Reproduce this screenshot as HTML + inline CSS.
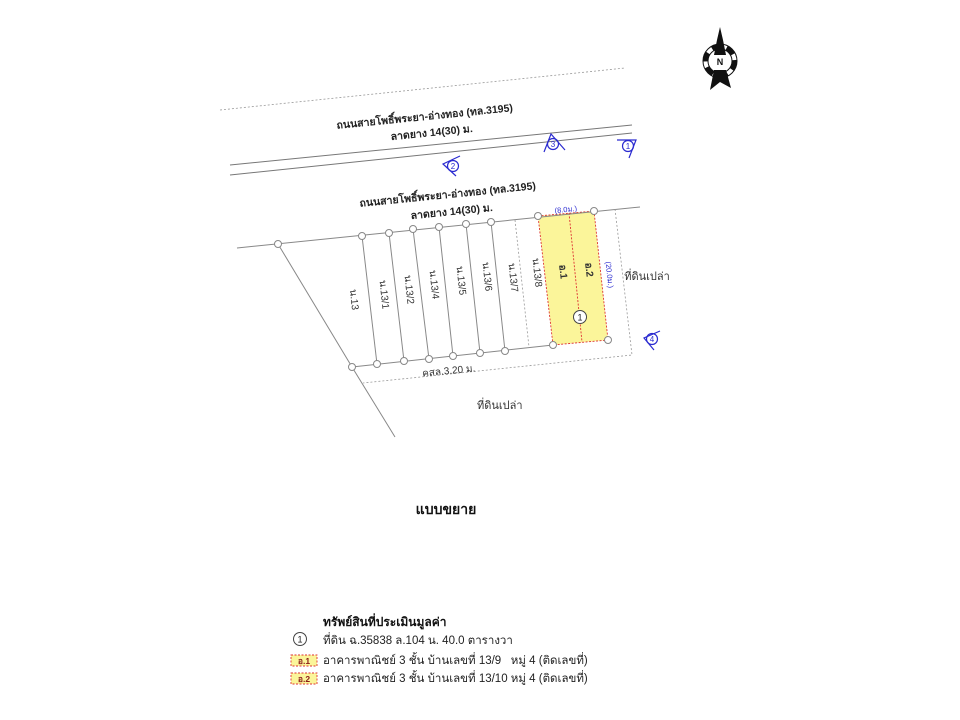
<!DOCTYPE html>
<html><head><meta charset="utf-8"><style>
html,body{margin:0;padding:0;background:#fff;}
svg{display:block;font-family:"Liberation Sans","Noto Sans CJK SC",sans-serif;}
</style></head><body>
<svg width="960" height="720" viewBox="0 0 960 720" xmlns="http://www.w3.org/2000/svg">
<rect width="960" height="720" fill="#fff"/>
<line x1="220" y1="110" x2="625" y2="68" stroke="#999" stroke-width="0.8" stroke-dasharray="2,2"/>
<line x1="230" y1="165" x2="632" y2="125" stroke="#777" stroke-width="1"/>
<line x1="230" y1="175" x2="632" y2="133" stroke="#777" stroke-width="1"/>
<g font-size="10.5" font-weight="bold" fill="#222" text-anchor="middle">
<text transform="translate(425,120) rotate(-5.7)">ถนนสายโพธิ์พระยา-อ่างทอง (ทล.3195)</text>
<text transform="translate(432,136) rotate(-5.7)">ลาดยาง 14(30) ม.</text>
<text transform="translate(448,198) rotate(-5.7)">ถนนสายโพธิ์พระยา-อ่างทอง (ทล.3195)</text>
<text transform="translate(452,215) rotate(-5.7)">ลาดยาง 14(30) ม.</text>
</g>
<polygon points="538,216 594,211 608,340 553,345" fill="#fbf59a" stroke="#d33" stroke-width="0.9" stroke-dasharray="2,1.5"/>
<line x1="569" y1="213" x2="582" y2="342" stroke="#d33" stroke-width="0.9" stroke-dasharray="2,1.5"/>
<g stroke="#888" stroke-width="1" fill="none">
<line x1="237" y1="248" x2="640" y2="207"/>
<line x1="352" y1="367" x2="553" y2="345"/>
<polyline points="278,244 352,367 395,437"/>
<line x1="362" y1="236" x2="377" y2="364"/>
<line x1="389" y1="233" x2="404" y2="361"/>
<line x1="413" y1="229" x2="429" y2="359"/>
<line x1="439" y1="227" x2="453" y2="356"/>
<line x1="466" y1="224" x2="480" y2="353"/>
<line x1="491" y1="222" x2="505" y2="351"/>
</g>
<g stroke="#999" stroke-width="0.8" fill="none" stroke-dasharray="2,2">
<line x1="515" y1="220" x2="529" y2="347"/>
<polyline points="615,209 632,355 363,383"/>
</g>
<g fill="#fff" stroke="#888" stroke-width="1">
<circle cx="278" cy="244" r="3.5"/><circle cx="362" cy="236" r="3.5"/><circle cx="389" cy="233" r="3.5"/>
<circle cx="413" cy="229" r="3.5"/><circle cx="439" cy="227" r="3.5"/><circle cx="466" cy="224" r="3.5"/>
<circle cx="491" cy="222" r="3.5"/><circle cx="538" cy="216" r="3.5"/><circle cx="594" cy="211" r="3.5"/>
<circle cx="352" cy="367" r="3.5"/><circle cx="377" cy="364" r="3.5"/><circle cx="404" cy="361" r="3.5"/>
<circle cx="429" cy="359" r="3.5"/><circle cx="453" cy="356" r="3.5"/><circle cx="480" cy="353" r="3.5"/>
<circle cx="505" cy="351" r="3.5"/><circle cx="553" cy="345" r="3.5"/><circle cx="608" cy="340" r="3.5"/>
</g>
<circle cx="580" cy="317" r="6.5" fill="#fff" stroke="#444" stroke-width="1"/>
<text x="580" y="320.5" font-size="9" text-anchor="middle" fill="#222">1</text>
<g font-size="10" fill="#333" text-anchor="middle">
<text transform="translate(351,300) rotate(84)">น.13</text>
<text transform="translate(381,295) rotate(84)">น.13/1</text>
<text transform="translate(406,290) rotate(84)">น.13/2</text>
<text transform="translate(431,285) rotate(84)">น.13/4</text>
<text transform="translate(458,281) rotate(84)">น.13/5</text>
<text transform="translate(484,277) rotate(84)">น.13/6</text>
<text transform="translate(510,278) rotate(84)">น.13/7</text>
<text transform="translate(534,273) rotate(84)">น.13/8</text>
<text transform="translate(560,272) rotate(84)" font-weight="bold">อ.1</text>
<text transform="translate(586,270) rotate(84)" font-weight="bold">อ.2</text>
<text transform="translate(449,374) rotate(-5.7)">คสล.3.20 ม.</text>
<text x="647" y="280" font-size="11">ที่ดินเปล่า</text>
<text x="477" y="409" font-size="11" text-anchor="start">ที่ดินเปล่า</text>
</g>
<g font-size="7.5" fill="#2a2ad0" text-anchor="middle">
<text transform="translate(566,212) rotate(-5.7)">(8.0ม.)</text>
<text transform="translate(607,275) rotate(84)">(20.0ม.)</text>
</g>
<g stroke="#2a2ad0" stroke-width="1.2" fill="none">
<polyline points="460,156 443,164 456,176"/><circle cx="453" cy="166" r="5.5"/>
<polyline points="544,152 551,134 565,150"/><circle cx="553" cy="144" r="5.5"/>
<polyline points="617,140 636,140 629,158"/><circle cx="628" cy="146" r="5.5"/>
<polyline points="660,331 644,338 654,350"/><circle cx="652" cy="339" r="5.5"/>
</g>
<g font-size="8" fill="#2a2ad0" text-anchor="middle">
<text x="453" y="169">2</text><text x="553" y="147">3</text><text x="628" y="149">1</text><text x="652" y="342">4</text>
</g>
<!-- north arrow -->
<g>
<circle cx="720" cy="61" r="17" fill="none" stroke="#111" stroke-width="1"/>
<circle cx="720" cy="61" r="12" fill="none" stroke="#111" stroke-width="1"/>
<circle cx="720" cy="61" r="14.5" fill="none" stroke="#111" stroke-width="5" stroke-dasharray="9,6"/>
<polygon points="720,27 723,40 726,55 714,55 717,40" fill="#111"/>
<polygon points="714,70 726,70 731,88 720,82 710,90" fill="#111"/>
<text x="720" y="65" font-size="9" font-weight="bold" text-anchor="middle" fill="#111">N</text>
</g>
<text x="446" y="514" font-size="14" font-weight="bold" text-anchor="middle" fill="#111">แบบขยาย</text>
<text x="323" y="626" font-size="12" font-weight="bold" fill="#111">ทรัพย์สินที่ประเมินมูลค่า</text>
<circle cx="300" cy="639" r="6.5" fill="#fff" stroke="#444" stroke-width="1"/>
<text x="300" y="642.5" font-size="9" text-anchor="middle" fill="#222">1</text>
<rect x="291" y="655" width="26" height="11" fill="#fbf59a" stroke="#d33" stroke-width="0.9" stroke-dasharray="2,1.5"/>
<rect x="291" y="673" width="26" height="11" fill="#fbf59a" stroke="#d33" stroke-width="0.9" stroke-dasharray="2,1.5"/>
<g font-size="8.5" font-weight="bold" fill="#8a1a1a" text-anchor="middle">
<text x="304" y="664">อ.1</text><text x="304" y="682">อ.2</text>
</g>
<g font-size="11.5" fill="#222">
<text x="323" y="644">ที่ดิน ฉ.35838 ล.104 น. 40.0 ตารางวา</text>
<text x="323" y="664">อาคารพาณิชย์ 3 ชั้น บ้านเลขที่ 13/9 &#160; หมู่ 4 (ติดเลขที่)</text>
<text x="323" y="682">อาคารพาณิชย์ 3 ชั้น บ้านเลขที่ 13/10 หมู่ 4 (ติดเลขที่)</text>
</g>
</svg>
</body></html>
